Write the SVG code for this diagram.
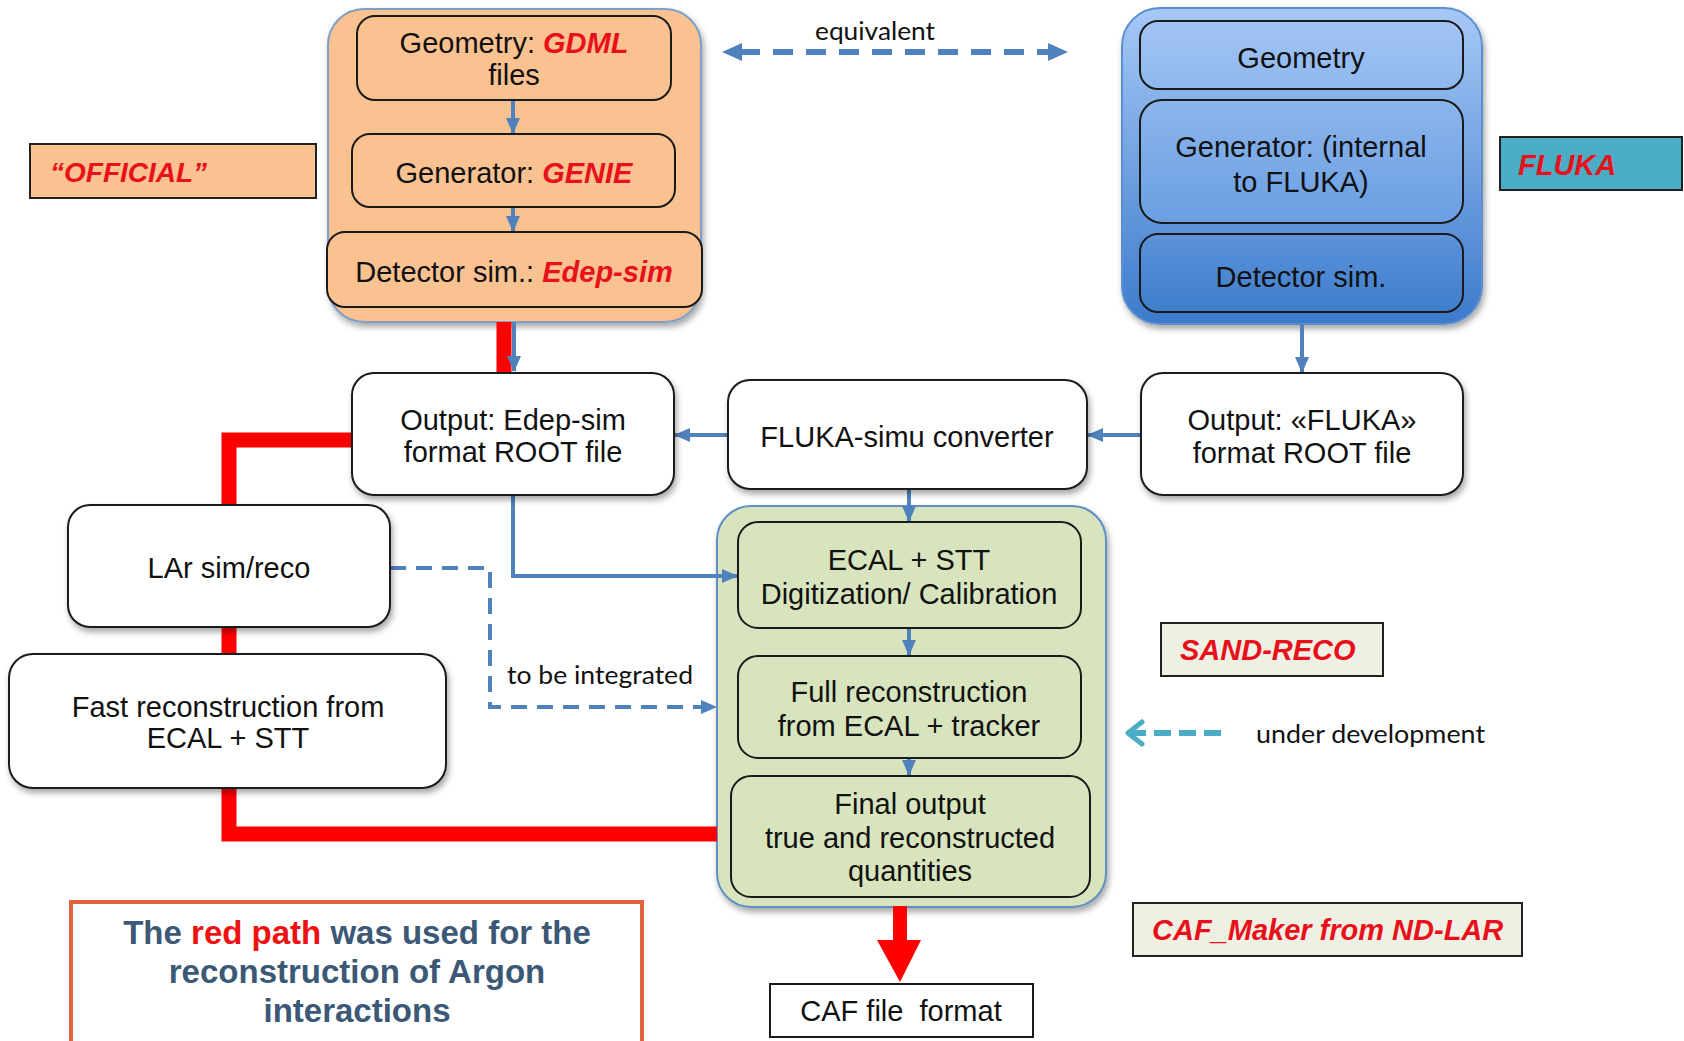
<svg xmlns="http://www.w3.org/2000/svg" width="1684" height="1041" viewBox="0 0 1684 1041">
<defs>
<style>
.t{font-family:"Liberation Sans",Arial,sans-serif;font-size:29px;fill:#111;text-anchor:middle}
.r{fill:#e8101a;font-weight:bold;font-style:italic}
.c{font-family:Lato,"Open Sans",sans-serif;font-size:25px;fill:#111}
.inner{stroke:#1a1a1a;stroke-width:2}
.white{fill:#fff;stroke:#1a1a1a;stroke-width:2}
.blue{fill:none;stroke:#4f81bd;stroke-width:4}
.red{fill:none;stroke:#ff0000;stroke-width:15}
.lbl{stroke:#222;stroke-width:2}
</style>
<filter id="sh" x="-10%" y="-10%" width="125%" height="130%">
<feDropShadow dx="2" dy="4" stdDeviation="3" flood-color="#000" flood-opacity="0.35"/>
</filter>
<linearGradient id="gBlue" x1="0" y1="0" x2="0" y2="1">
<stop offset="0" stop-color="#a6c8f6"/>
<stop offset="1" stop-color="#3c7bcb"/>
</linearGradient>
<linearGradient id="gB1" x1="0" y1="0" x2="0" y2="1">
<stop offset="0" stop-color="#a2c4f4"/>
<stop offset="1" stop-color="#8fb8ee"/>
</linearGradient>
<linearGradient id="gB2" x1="0" y1="0" x2="0" y2="1">
<stop offset="0" stop-color="#8cb5ec"/>
<stop offset="1" stop-color="#6a9fe2"/>
</linearGradient>
<linearGradient id="gB3" x1="0" y1="0" x2="0" y2="1">
<stop offset="0" stop-color="#5c93da"/>
<stop offset="1" stop-color="#3f7dcb"/>
</linearGradient>
<marker id="ab" markerUnits="userSpaceOnUse" markerWidth="16" markerHeight="16" viewBox="0 0 16 16" refX="15" refY="8" orient="auto-start-reverse">
<path d="M0,1 L16,8 L0,15 z" fill="#4f81bd"/>
</marker>
<marker id="at" markerUnits="userSpaceOnUse" markerWidth="22" markerHeight="28" viewBox="0 0 22 28" refX="18" refY="14" orient="auto">
<path d="M4,3 L18,14 L4,25" fill="none" stroke="#4bacc6" stroke-width="5" stroke-linecap="round" stroke-linejoin="round"/>
</marker>
</defs>
<rect width="1684" height="1041" fill="#fff"/>

<!-- containers -->
<g id="official-container">
<rect x="328" y="9" width="373" height="313" rx="36" fill="#fac191" stroke="#7f9fc8" stroke-width="2" filter="url(#sh)"/>
</g>
<g id="fluka-container">
<rect x="1122" y="8" width="360" height="316" rx="38" fill="url(#gBlue)" stroke="#5b8fd0" stroke-width="2" filter="url(#sh)"/>
</g>
<g id="sandreco-container">
<rect x="717" y="506" width="389" height="401" rx="34" fill="#d7e4bd" stroke="#5f8fc4" stroke-width="2" filter="url(#sh)"/>
</g>

<!-- connectors -->
<g id="connectors">
<path class="red" d="M504,322 V372"/>
<path class="red" d="M352,440 H229 V834 H717"/>
<path class="blue" d="M513,100 V133" marker-end="url(#ab)"/>
<path class="blue" d="M513,207 V231" marker-end="url(#ab)"/>
<path class="blue" d="M514,322 V371" marker-end="url(#ab)"/>
<path class="blue" d="M1302,324 V372" marker-end="url(#ab)"/>
<path class="blue" d="M1140,435 H1088" marker-end="url(#ab)"/>
<path class="blue" d="M728,435 H675" marker-end="url(#ab)"/>
<path class="blue" d="M513,495 V576 H737" marker-end="url(#ab)"/>
<path class="blue" d="M909,489 V521" marker-end="url(#ab)"/>
<path class="blue" d="M909,628 V655" marker-end="url(#ab)"/>
<path class="blue" d="M909,758 V775" marker-end="url(#ab)"/>
<path d="M740,52 H1050" fill="none" stroke="#4f81bd" stroke-width="6" stroke-dasharray="20 13"/>
<path d="M722,52 L742,43 L742,61 z" fill="#4f81bd"/>
<path d="M1068,52 L1048,43 L1048,61 z" fill="#4f81bd"/>
<path d="M390,568 H490 V707 H716" fill="none" stroke="#4f81bd" stroke-width="4" stroke-dasharray="16 10" marker-end="url(#ab)"/>
<path d="M1221,733 H1128" fill="none" stroke="#4bacc6" stroke-width="6" stroke-dasharray="17 8" marker-end="url(#at)"/>
<rect x="893" y="906" width="14" height="36" fill="#ff0000"/>
<path d="M877,940 L921,940 L900,982 z" fill="#ff0000"/>
</g>

<!-- nodes -->
<g id="geometry-gdml">
<rect class="inner" x="357" y="16" width="314" height="84" rx="18" fill="#fac191"/>
<text class="t" x="514" y="53">Geometry: <tspan class="r">GDML</tspan></text>
<text class="t" x="514" y="85">files</text>
</g>
<g id="generator-genie">
<rect class="inner" x="352" y="134" width="323" height="73" rx="18" fill="#fac191"/>
<text class="t" x="514" y="183">Generator: <tspan class="r">GENIE</tspan></text>
</g>
<g id="detector-edepsim">
<rect class="inner" x="327" y="232" width="375" height="75" rx="18" fill="#fac191"/>
<text class="t" x="514" y="282">Detector sim.: <tspan class="r">Edep-sim</tspan></text>
</g>

<g id="fluka-geometry">
<rect class="inner" x="1140" y="21" width="323" height="68" rx="18" fill="url(#gB1)"/>
<text class="t" x="1301" y="68">Geometry</text>
</g>
<g id="fluka-generator">
<rect class="inner" x="1140" y="100" width="323" height="123" rx="22" fill="url(#gB2)"/>
<text class="t" x="1301" y="157">Generator: (internal</text>
<text class="t" x="1301" y="192">to FLUKA)</text>
</g>
<g id="fluka-detector">
<rect class="inner" x="1140" y="234" width="323" height="78" rx="18" fill="url(#gB3)"/>
<text class="t" x="1301" y="287">Detector sim.</text>
</g>

<g id="label-official">
<rect class="lbl" x="30" y="144" width="286" height="54" fill="#fac191"/>
<text class="t r" x="50" y="182" style="text-anchor:start;font-size:28px">“OFFICIAL”</text>
</g>
<g id="label-fluka">
<rect class="lbl" x="1500" y="137" width="182" height="53" fill="#4bacc6"/>
<text class="t r" x="1518" y="175" style="text-anchor:start">FLUKA</text>
</g>

<g id="equivalent-label">
<text class="c" x="815" y="40" textLength="120" lengthAdjust="spacingAndGlyphs">equivalent</text>
</g>

<g id="output-edepsim">
<rect class="white" x="352" y="373" width="322" height="122" rx="22" filter="url(#sh)"/>
<text class="t" x="513" y="430">Output: Edep-sim</text>
<text class="t" x="513" y="462">format ROOT file</text>
</g>
<g id="fluka-converter">
<rect class="white" x="728" y="380" width="359" height="109" rx="22" filter="url(#sh)"/>
<text class="t" x="907" y="447">FLUKA-simu converter</text>
</g>
<g id="output-fluka">
<rect class="white" x="1141" y="373" width="322" height="122" rx="22" filter="url(#sh)"/>
<text class="t" x="1302" y="430">Output: «FLUKA»</text>
<text class="t" x="1302" y="463">format ROOT file</text>
</g>

<g id="lar-simreco">
<rect class="white" x="68" y="505" width="322" height="122" rx="22" filter="url(#sh)"/>
<text class="t" x="229" y="578">LAr sim/reco</text>
</g>
<g id="fast-reco">
<rect class="white" x="9" y="654" width="437" height="134" rx="24" filter="url(#sh)"/>
<text class="t" x="228" y="717">Fast reconstruction from</text>
<text class="t" x="228" y="748">ECAL + STT</text>
</g>

<g id="to-be-integrated-label">
<text class="c" x="507" y="684" textLength="186" lengthAdjust="spacingAndGlyphs">to be integrated</text>
</g>

<g id="ecal-stt">
<rect class="inner" x="738" y="522" width="343" height="106" rx="20" fill="#d7e4bd"/>
<text class="t" x="909" y="570">ECAL + STT</text>
<text class="t" x="909" y="604">Digitization/ Calibration</text>
</g>
<g id="full-reco">
<rect class="inner" x="738" y="656" width="343" height="102" rx="20" fill="#d7e4bd"/>
<text class="t" x="909" y="702">Full reconstruction</text>
<text class="t" x="909" y="736">from ECAL + tracker</text>
</g>
<g id="final-output">
<rect class="inner" x="731" y="776" width="359" height="121" rx="20" fill="#d7e4bd"/>
<text class="t" x="910" y="814">Final output</text>
<text class="t" x="910" y="848">true and reconstructed</text>
<text class="t" x="910" y="881">quantities</text>
</g>

<g id="label-sandreco">
<rect class="lbl" x="1161" y="623" width="222" height="53" fill="#eef0e4"/>
<text class="t r" x="1180" y="660" style="text-anchor:start">SAND-RECO</text>
</g>
<g id="under-development-label">
<text class="c" x="1256" y="743" textLength="229" lengthAdjust="spacingAndGlyphs">under development</text>
</g>
<g id="label-cafmaker">
<rect class="lbl" x="1133" y="903" width="389" height="53" fill="#eef0e4"/>
<text class="t r" x="1152" y="940" style="text-anchor:start">CAF_Maker from ND-LAR</text>
</g>

<g id="caf-file">
<rect x="770" y="984" width="263" height="53" fill="#fff" stroke="#1a1a1a" stroke-width="2"/>
<text class="t" x="901" y="1021" style="white-space:pre" xml:space="preserve">CAF file  format</text>
</g>

<g id="note-red-path">
<rect x="71" y="902" width="571" height="150" fill="#fff" stroke="#e2643c" stroke-width="4"/>
<text class="t" x="357" y="944" style="font-weight:bold;font-size:33px;fill:#3b5876">The <tspan fill="#ee1111">red path</tspan> was used for the</text>
<text class="t" x="357" y="983" style="font-weight:bold;font-size:33px;fill:#3b5876">reconstruction of Argon</text>
<text class="t" x="357" y="1022" style="font-weight:bold;font-size:33px;fill:#3b5876">interactions</text>
</g>
</svg>
